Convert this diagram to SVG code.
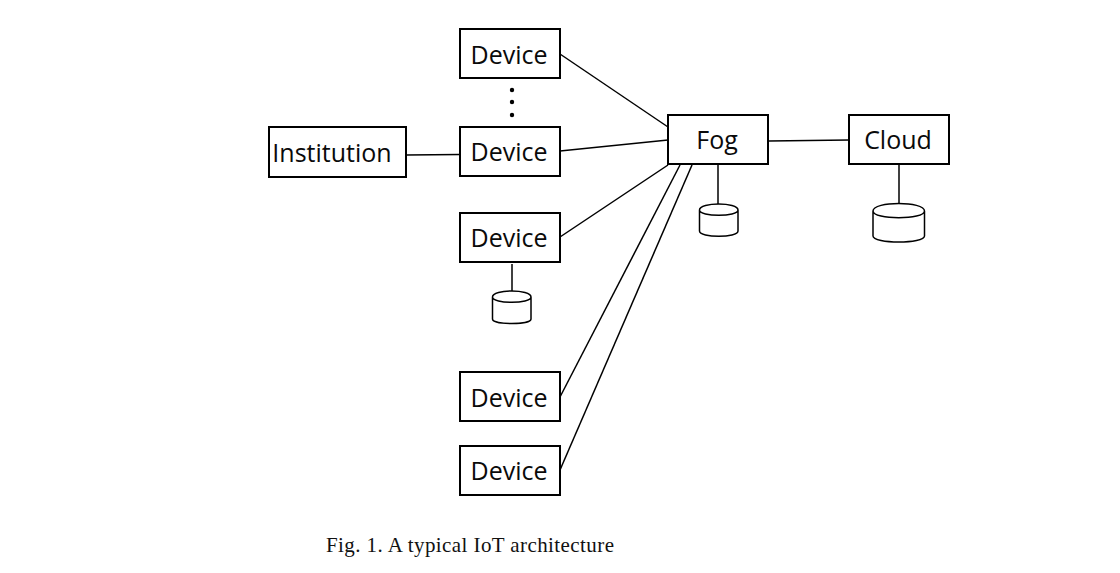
<svg xmlns="http://www.w3.org/2000/svg" width="1120" height="573" viewBox="0 0 1120 573">
<style>
.b{fill:#fff;stroke:#000;stroke-width:2}
.t{font-family:"Open Sans","Noto Sans","Liberation Sans",sans-serif;font-size:25px;fill:#0a0a0a;text-anchor:middle}
.l{stroke:#000;stroke-width:1.5;fill:none}
.c{fill:#fff;stroke:#000;stroke-width:1.5}
.cap{font-family:"Liberation Serif",serif;font-size:21px;fill:#111}
</style>
<rect width="1120" height="573" fill="#fff"/>
<g id="connectors">
<line class="l" x1="406" y1="155" x2="460" y2="154.500"/>
<line class="l" x1="560" y1="54" x2="668" y2="127"/>
<line class="l" x1="560" y1="151" x2="668" y2="140"/>
<line class="l" x1="560" y1="237" x2="668" y2="165"/>
<line class="l" x1="560" y1="397" x2="680" y2="165"/>
<line class="l" x1="560" y1="470" x2="692" y2="165"/>
<line class="l" x1="769" y1="141" x2="849" y2="140"/>
<line class="l" x1="718" y1="165" x2="718" y2="205"/>
<line class="l" x1="512" y1="264" x2="512" y2="292"/>
<line class="l" x1="899" y1="165" x2="899" y2="205"/>
</g>
<g id="device1"><rect class="b" x="460" y="29" width="100" height="49"/><text class="t" x="509" y="64">Device</text></g>
<g id="dots"><circle cx="512" cy="90" r="2.200"/><circle cx="512" cy="102" r="2.200"/><circle cx="512" cy="115" r="2.200"/></g>
<g id="device2"><rect class="b" x="460" y="127" width="100" height="49"/><text class="t" x="509" y="161">Device</text></g>
<g id="device3"><rect class="b" x="460" y="213" width="100" height="49"/><text class="t" x="509" y="247">Device</text></g>
<g id="device4"><rect class="b" x="460" y="372" width="100" height="49"/><text class="t" x="509" y="407">Device</text></g>
<g id="device5"><rect class="b" x="460" y="446" width="100" height="49"/><text class="t" x="509" y="480">Device</text></g>
<g id="institution"><rect class="b" x="269" y="127" width="137" height="50"/><text class="t" x="332" y="162">Institution</text></g>
<g id="fog"><rect class="b" x="668" y="115" width="100" height="49"/><text class="t" x="717" y="149">Fog</text></g>
<g id="cloud"><rect class="b" x="849" y="115" width="100" height="49"/><text class="t" x="898" y="149">Cloud</text></g>
<g id="db-device"><path class="c" d="M492.500 297V319C492.500 325 531 325 531 319V297C531 289 492.500 289 492.500 297C492.500 304 531 304 531 297"/></g>
<g id="db-fog"><path class="c" d="M699.500 210V231C699.500 238 738 238 738 231V210C738 202 699.500 202 699.500 210C699.500 217 738 217 738 210"/></g>
<g id="db-cloud"><path class="c" d="M873 211V236C873 244 924.500 244 924.500 236V211C924.500 201 873 201 873 211C873 220 924.500 220 924.500 211"/></g>
<text class="cap" x="326" y="552" textLength="288" lengthAdjust="spacing">Fig. 1. A typical IoT architecture</text>
</svg>
